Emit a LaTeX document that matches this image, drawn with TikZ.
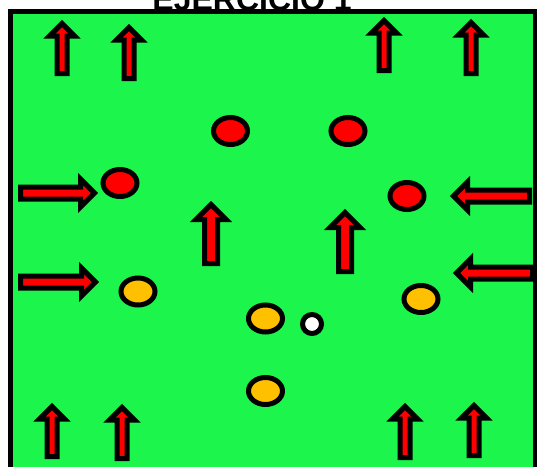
\documentclass[tikz,border=0pt]{standalone}
\usepackage{fontspec}
\setmainfont{Liberation Sans}
\usetikzlibrary{shapes.geometric}

\definecolor{fieldgreen}{RGB}{28,245,75}
\definecolor{playerred}{RGB}{255,0,0}
\definecolor{playeryellow}{RGB}{255,192,0}

\tikzset{
  field/.style={draw=black, fill=fieldgreen, line width=5pt},
  arrowline/.style={draw=black, fill=playerred, line width=5pt, line join=miter},
  redplayer/.style={ellipse, draw=black, fill=playerred, line width=5pt, inner sep=0pt, minimum width=34pt, minimum height=27pt},
  yellowplayer/.style={redplayer, fill=playeryellow},
  ball/.style={circle, draw=black, fill=white, line width=5pt, inner sep=0pt, minimum size=19pt},
  pics/blockarrow/.style n args={3}{code={
    \draw[arrowline] (0,-#2) -- ({#1-#3},-#2) -- ({#1-#3},-#3) -- (#1,0)
      -- ({#1-#3},#3) -- ({#1-#3},#2) -- (0,#2) -- cycle;
  }}
}

\begin{document}
\begin{tikzpicture}[x=1pt, y=-1pt]
            \useasboundingbox (0,0) rectangle (537,466);
            \clip (0,0) rectangle (537,466);

            % Field
            \draw[field] (10.5,11.5) rectangle (535,470);
            \node[font=\bfseries\fontsize{32}{36}\selectfont, anchor=base, inner sep=0pt] (title) at (252,10) {EJERCICIO 1};

            % Top arrows
            \pic[rotate=90] at (62,73.5) {blockarrow={50}{5}{12.5}};
            \pic[rotate=90] at (129,78.5) {blockarrow={51}{5}{12.5}};
            \pic[rotate=90] at (384,70.5) {blockarrow={50}{5}{12.5}};
            \pic[rotate=90] at (471,73.5) {blockarrow={51}{5}{12.5}};

            % Side arrows
            \pic at (20.5,193) {blockarrow={74}{6}{14}};
            \pic at (20.5,282) {blockarrow={75}{6}{14}};
            \pic[rotate=180] at (529.5,196) {blockarrow={76}{6}{14}};
            \pic[rotate=180] at (532.5,273) {blockarrow={76}{6}{14}};

            % Middle arrows
            \pic[rotate=90] at (211,263.5) {blockarrow={59}{6.5}{15}};
            \pic[rotate=90] at (345,271.5) {blockarrow={59}{6.5}{15}};

            % Bottom arrows
            \pic[rotate=90] at (52,456.5) {blockarrow={50}{5}{12.5}};
            \pic[rotate=90] at (122,458.5) {blockarrow={51}{5}{12.5}};
            \pic[rotate=90] at (405,457.5) {blockarrow={51}{5}{12.5}};
            \pic[rotate=90] at (474,455.5) {blockarrow={50}{5}{12.5}};

            % Players
            \node[redplayer] (r1) at (230.5,131) {};
            \node[redplayer] (r2) at (348,131) {};
            \node[redplayer] (r3) at (120,183) {};
            \node[redplayer] (r4) at (407,196) {};

            \node[yellowplayer] (y1) at (138,291.5) {};
            \node[yellowplayer] (y2) at (265.5,318.5) {};
            \node[yellowplayer] (y3) at (421,299) {};
            \node[yellowplayer] (y4) at (265.5,391) {};

            % Ball
            \node[ball] (b) at (312,324) {};
\end{tikzpicture}
\end{document}
